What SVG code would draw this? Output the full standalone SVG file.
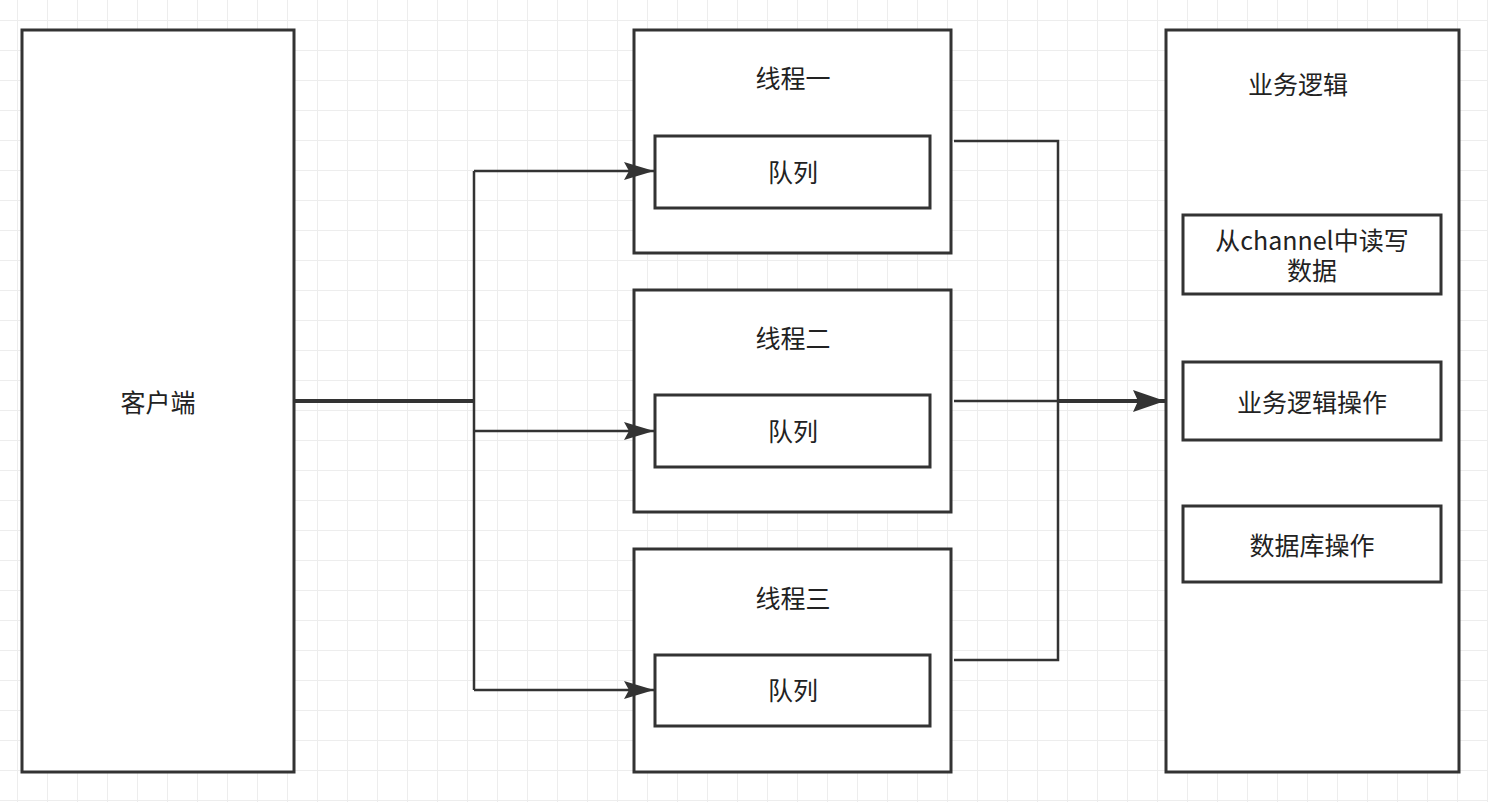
<svg xmlns="http://www.w3.org/2000/svg" width="1488" height="802" viewBox="0 0 1488 802">
<defs>
<pattern id="grid" x="17" y="20" width="30" height="30" patternUnits="userSpaceOnUse">
<path d="M0,0 H30 M0,0 V30" fill="none" stroke="#ededed" stroke-width="2"/>
</pattern>
<marker id="arr" markerUnits="userSpaceOnUse" markerWidth="32" markerHeight="20" refX="30" refY="9" orient="auto">
<path d="M0,0 L30,9 L0,18 L5,9 Z" fill="#333"/>
</marker>
<marker id="arrBig" markerUnits="userSpaceOnUse" markerWidth="34" markerHeight="24" refX="32" refY="11" orient="auto">
<path d="M0,0 L32,11 L0,22 L5,11 Z" fill="#333"/>
</marker>
<style>
.box{fill:#fff;stroke:#333;stroke-width:3}
.t{font-family:"Noto Sans CJK SC","Noto Sans",sans-serif;font-size:25px;fill:#222;text-anchor:middle;dominant-baseline:central}
.c{fill:none;stroke:#333;stroke-width:2.5}
.cb{fill:none;stroke:#333;stroke-width:4}
</style>
</defs>
<rect width="1488" height="802" fill="#fff"/>
<rect width="1488" height="802" fill="url(#grid)"/>

<g id="client">
<rect class="box" x="22" y="30" width="272" height="742"/>
<text class="t" x="158" y="401">客户端</text>
</g>

<g id="thread1">
<rect class="box" x="634" y="30" width="317" height="223"/>
<text class="t" x="793" y="77">线程一</text>
</g>
<g id="queue1">
<rect class="box" x="655" y="136" width="275" height="72"/>
<text class="t" x="793" y="171">队列</text>
</g>

<g id="thread2">
<rect class="box" x="634" y="290" width="317" height="222"/>
<text class="t" x="793" y="337">线程二</text>
</g>
<g id="queue2">
<rect class="box" x="655" y="395" width="275" height="72"/>
<text class="t" x="793" y="430">队列</text>
</g>

<g id="thread3">
<rect class="box" x="634" y="549" width="317" height="223"/>
<text class="t" x="793" y="597">线程三</text>
</g>
<g id="queue3">
<rect class="box" x="655" y="655" width="275" height="71"/>
<text class="t" x="793" y="689">队列</text>
</g>

<g id="logic">
<rect class="box" x="1166" y="30" width="293" height="742"/>
<text class="t" x="1298" y="83">业务逻辑</text>
</g>
<g id="rw">
<rect class="box" x="1183" y="215" width="258" height="79"/>
<text class="t" x="1312" y="239">从channel中读写<tspan x="1312" dy="30">数据</tspan></text>
</g>
<g id="bizop">
<rect class="box" x="1183" y="362" width="258" height="78"/>
<text class="t" x="1312" y="401">业务逻辑操作</text>
</g>
<g id="dbop">
<rect class="box" x="1183" y="506" width="258" height="76"/>
<text class="t" x="1312" y="544">数据库操作</text>
</g>

<g id="connectors">
<path class="cb" d="M295,401 H474"/>
<path class="c" d="M474,171 V690"/>
<path class="c" d="M474,171 H654" marker-end="url(#arr)"/>
<path class="c" d="M474,431 H654" marker-end="url(#arr)"/>
<path class="c" d="M474,690 H654" marker-end="url(#arr)"/>
<path class="c" d="M954,141 H1058 V660 H954"/>
<path class="c" d="M954,401 H1058"/>
<path class="cb" d="M1058,401 H1165" marker-end="url(#arrBig)"/>
</g>
</svg>
